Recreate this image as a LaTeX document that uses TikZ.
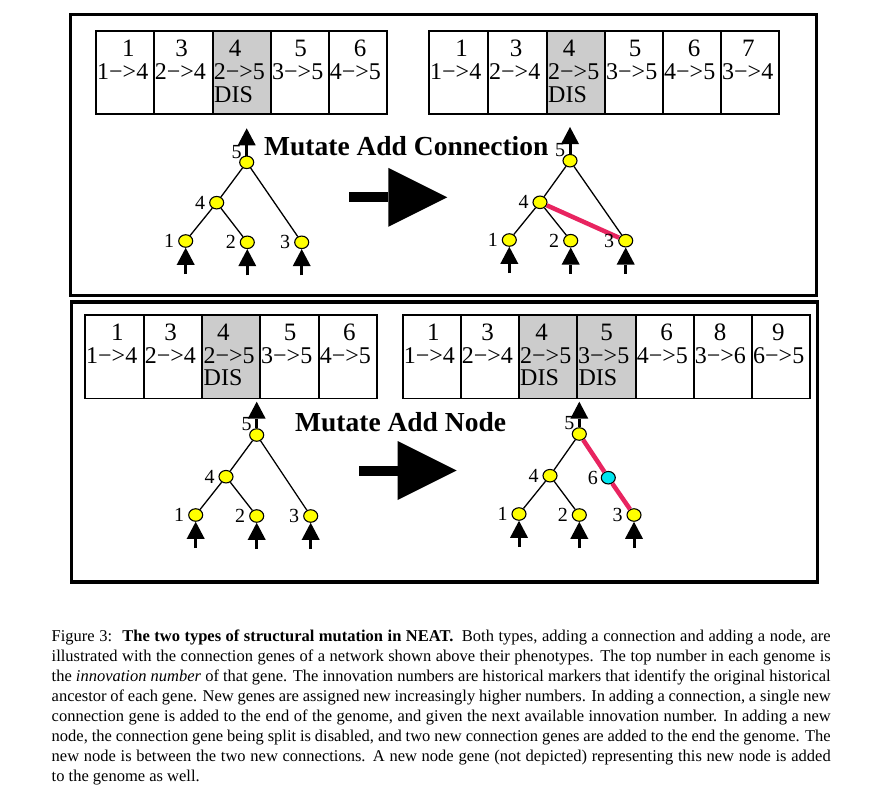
\documentclass[tikz,border=0pt]{standalone}
\usepackage{fontspec}
\setmainfont{Liberation Serif}
\usetikzlibrary{arrows.meta,shapes.geometric}
\definecolor{cellgray}{RGB}{204,204,204}
\definecolor{nodeyellow}{RGB}{255,255,0}
\definecolor{nodecyan}{RGB}{0,230,240}
\definecolor{newred}{RGB}{232,36,96}
\tikzset{
 cellbox/.style={draw, line width=1.8pt, rectangle, minimum height=83.5pt, inner sep=0pt, anchor=north west},
 numtxt/.style={inner sep=0pt, font=\fontsize{25}{25}\selectfont},
 conntxt/.style={inner sep=0pt, anchor=west, font=\fontsize{24}{24}\selectfont},
 neuron/.style={ellipse, draw, line width=1.1pt, fill=nodeyellow, minimum width=14pt, minimum height=12.5pt, inner sep=0pt},
 newneuron/.style={neuron, fill=nodecyan},
 lbl/.style={inner sep=0pt, font=\fontsize{20}{20}\selectfont},
 link/.style={line width=1.3pt},
 newlink/.style={line width=4.5pt, draw=newred},
 ioarrow/.style={line width=3pt, -{Triangle[length=17pt,width=18pt,line width=0pt]}},
 bigarrow/.style={line width=10pt, -{Triangle[length=59pt,width=59pt,line width=0pt]}},
 panel/.style={line width=3.5pt},
 title/.style={inner sep=0pt, anchor=base west, font=\fontsize{27.5}{27.5}\selectfont\bfseries},
}
\newcommand{\gcell}[8]{%
  \node[cellbox, fill=#5, minimum width={#3-#2}] (#1) at (#2,#4) {};
  \node[numtxt] (#1n) at (#7,#4+18.5) {#6};
  \node[conntxt] (#1c) at (#2+2,#4+42) {#8};
}
\begin{document}
\begin{tikzpicture}[x=1pt,y=-1pt]
\useasboundingbox[fill=white] (0,0) rectangle (883,789);

% panels
\draw[panel] (70.7,14.5) rectangle (816.3,295.5);
\draw[panel] (71.5,302) rectangle (817.5,582);

% ---------- top-left genome
\gcell{ga}{95}{152.7}{30}{white}{1}{128.3}{1−>4}
\gcell{gb}{152.7}{211.7}{30}{white}{3}{181.7}{2−>4}
\gcell{gc}{211.7}{270}{30}{cellgray}{4}{235}{2−>5}
\gcell{gd}{270}{327.7}{30}{white}{5}{300.7}{3−>5}
\gcell{ge}{327.7}{386}{30}{white}{6}{360}{4−>5}
\node[conntxt] (gcd) at (214,95) {DIS};

% ---------- top-right genome
\gcell{ha}{428}{487}{30}{white}{1}{461.7}{1−>4}
\gcell{hb}{487}{546}{30}{white}{3}{516}{2−>4}
\gcell{hc}{546}{604}{30}{cellgray}{4}{569}{2−>5}
\gcell{hd}{604}{662}{30}{white}{5}{635}{3−>5}
\gcell{he}{662}{720}{30}{white}{6}{694}{4−>5}
\gcell{hf}{720}{778}{30}{white}{7}{748.3}{3−>4}
\node[conntxt] (hcd) at (548,95) {DIS};

% ---------- bottom-left genome
\gcell{ia}{84}{142.7}{314}{white}{1}{117.3}{1−>4}
\gcell{ib}{142.7}{201.3}{314}{white}{3}{170.7}{2−>4}
\gcell{ic}{201.3}{259}{314}{cellgray}{4}{223.3}{2−>5}
\gcell{id}{259}{317.7}{314}{white}{5}{290}{3−>5}
\gcell{ie}{317.7}{376}{314}{white}{6}{349.3}{4−>5}
\node[conntxt] (icd) at (203.5,378) {DIS};

% ---------- bottom-right genome
\gcell{ja}{401.7}{459.7}{314}{white}{1}{433.3}{1−>4}
\gcell{jb}{459.7}{518}{314}{white}{3}{487.7}{2−>4}
\gcell{jc}{518}{576}{314}{cellgray}{4}{541.7}{2−>5}
\gcell{jd}{576}{634.7}{314}{cellgray}{5}{606.7}{3−>5}
\gcell{je}{634.7}{692.7}{314}{white}{6}{666.7}{4−>5}
\gcell{jf}{692.7}{751}{314}{white}{8}{720}{3−>6}
\gcell{jg}{751}{809}{314}{white}{9}{778.3}{6−>5}
\node[conntxt] (jcd) at (520,378) {DIS};
\node[conntxt] (jdd) at (578.3,378) {DIS};

% ---------- titles
\node[title] (t1) at (264,155.7) {Mutate Add Connection};
\node[title] (t2) at (295,431) {Mutate Add Node};

% ---------- big arrows
\coordinate (b1s) at (349.3,197.3);
\coordinate (b1e) at (447.3,197.3);
\draw[bigarrow] (b1s) -- (b1e);
\coordinate (b2s) at (359,470.5);
\coordinate (b2e) at (456.7,470.5);
\draw[bigarrow] (b2s) -- (b2e);

% ---------- top-left network
\node[neuron] (a5) at (246.7,162.3) {};
\node[neuron] (a4) at (216.7,202.7) {};
\node[neuron] (a1) at (185.7,241) {};
\node[neuron] (a2) at (247.3,242.3) {};
\node[neuron] (a3) at (301.7,242.3) {};
\draw[link] (a5) -- (a4);
\draw[link] (a4) -- (a1);
\draw[link] (a4) -- (a2);
\draw[link] (a5) -- (a3);
\node[lbl] (a5l) at ([shift={(-10,-10.5)}]a5.center) {5};
\node[lbl] (a4l) at ([shift={(-16.5,0)}]a4.center) {4};
\node[lbl] (a1l) at ([shift={(-16.5,0)}]a1.center) {1};
\node[lbl] (a2l) at ([shift={(-16.5,0)}]a2.center) {2};
\node[lbl] (a3l) at ([shift={(-16.5,0)}]a3.center) {3};
\coordinate (a5o) at (246.7,128.3);
\coordinate (a1i) at (185.7,274);
\coordinate (a2i) at (247.3,275.3);
\coordinate (a3i) at (301.7,275.3);
\draw[ioarrow] (a5) -- (a5o);
\draw[ioarrow] (a1i) -- (a1);
\draw[ioarrow] (a2i) -- (a2);
\draw[ioarrow] (a3i) -- (a3);

% ---------- top-right network
\node[neuron] (c5) at (570,160.7) {};
\node[neuron] (c4) at (540,202.3) {};
\node[neuron] (c1) at (509.3,240) {};
\node[neuron] (c2) at (570.7,240.7) {};
\node[neuron] (c3) at (625.7,240.7) {};
\draw[link] (c5) -- (c4);
\draw[link] (c4) -- (c1);
\draw[link] (c4) -- (c2);
\draw[link] (c5) -- (c3);
\draw[newlink] (c4) -- (c3);
\node[lbl] (c5l) at ([shift={(-10,-10.5)}]c5.center) {5};
\node[lbl] (c4l) at ([shift={(-16.5,0)}]c4.center) {4};
\node[lbl] (c1l) at ([shift={(-16.5,0)}]c1.center) {1};
\node[lbl] (c2l) at ([shift={(-16.5,0)}]c2.center) {2};
\node[lbl] (c3l) at ([shift={(-16.5,0)}]c3.center) {3};
\coordinate (c5o) at (570,127);
\coordinate (c1i) at (509.3,273);
\coordinate (c2i) at (570.7,273.7);
\coordinate (c3i) at (625.7,273.7);
\draw[ioarrow] (c5) -- (c5o);
\draw[ioarrow] (c1i) -- (c1);
\draw[ioarrow] (c2i) -- (c2);
\draw[ioarrow] (c3i) -- (c3);

% ---------- bottom-left network
\node[neuron] (d5) at (256.7,435) {};
\node[neuron] (d4) at (226,476.7) {};
\node[neuron] (d1) at (195.7,515) {};
\node[neuron] (d2) at (256.7,516) {};
\node[neuron] (d3) at (310.7,516) {};
\draw[link] (d5) -- (d4);
\draw[link] (d4) -- (d1);
\draw[link] (d4) -- (d2);
\draw[link] (d5) -- (d3);
\node[lbl] (d5l) at ([shift={(-10,-10.5)}]d5.center) {5};
\node[lbl] (d4l) at ([shift={(-16.5,0)}]d4.center) {4};
\node[lbl] (d1l) at ([shift={(-16.5,0)}]d1.center) {1};
\node[lbl] (d2l) at ([shift={(-16.5,0)}]d2.center) {2};
\node[lbl] (d3l) at ([shift={(-16.5,0)}]d3.center) {3};
\coordinate (d5o) at (256.7,401.7);
\coordinate (d1i) at (195.7,548);
\coordinate (d2i) at (256.7,549);
\coordinate (d3i) at (310.7,549);
\draw[ioarrow] (d5) -- (d5o);
\draw[ioarrow] (d1i) -- (d1);
\draw[ioarrow] (d2i) -- (d2);
\draw[ioarrow] (d3i) -- (d3);

% ---------- bottom-right network
\node[neuron] (e5) at (579.3,434) {};
\node[neuron] (e4) at (550,475.7) {};
\node[newneuron] (e6) at (608.3,477.7) {};
\node[neuron] (e1) at (519,514) {};
\node[neuron] (e2) at (579.3,515) {};
\node[neuron] (e3) at (634,515) {};
\draw[link] (e5) -- (e4);
\draw[link] (e4) -- (e1);
\draw[link] (e4) -- (e2);
\draw[newlink] (e5) -- (e6);
\draw[newlink] (e6) -- (e3);
\node[lbl] (e5l) at ([shift={(-10,-10.5)}]e5.center) {5};
\node[lbl] (e4l) at ([shift={(-16.5,0)}]e4.center) {4};
\node[lbl] (e6l) at ([shift={(-15.5,0)}]e6.center) {6};
\node[lbl] (e1l) at ([shift={(-16.5,0)}]e1.center) {1};
\node[lbl] (e2l) at ([shift={(-16.5,0)}]e2.center) {2};
\node[lbl] (e3l) at ([shift={(-16.5,0)}]e3.center) {3};
\coordinate (e5o) at (579.3,401.7);
\coordinate (e1i) at (519,547);
\coordinate (e2i) at (579.3,548);
\coordinate (e3i) at (634,548);
\draw[ioarrow] (e5) -- (e5o);
\draw[ioarrow] (e1i) -- (e1);
\draw[ioarrow] (e2i) -- (e2);
\draw[ioarrow] (e3i) -- (e3);

% ---------- caption
\node[anchor=north west, inner sep=0pt, text width=779pt, align=justify,
      font=\fontsize{16.5}{20}\selectfont] (cap) at (51.5,627) {\noindent\strut Figure 3:\hspace{4pt} \textbf{The two types of structural mutation in NEAT.}\hspace{4pt} Both types, adding a connection and adding a node, are\linebreak
illustrated with the connection genes of a network shown above their phenotypes. The top number in each genome is\linebreak
the \textit{innovation number} of that gene. The innovation numbers are historical markers that identify the original historical\linebreak
ancestor of each gene. New genes are assigned new increasingly higher numbers. In adding a connection, a single new\linebreak
connection gene is added to the end of the genome, and given the next available innovation number. In adding a new\linebreak
node, the connection gene being split is disabled, and two new connection genes are added to the end the genome. The\linebreak
new node is between the two new connections. A new node gene (not depicted) representing this new node is added\linebreak
to the genome as well.};
\end{tikzpicture}
\end{document}
